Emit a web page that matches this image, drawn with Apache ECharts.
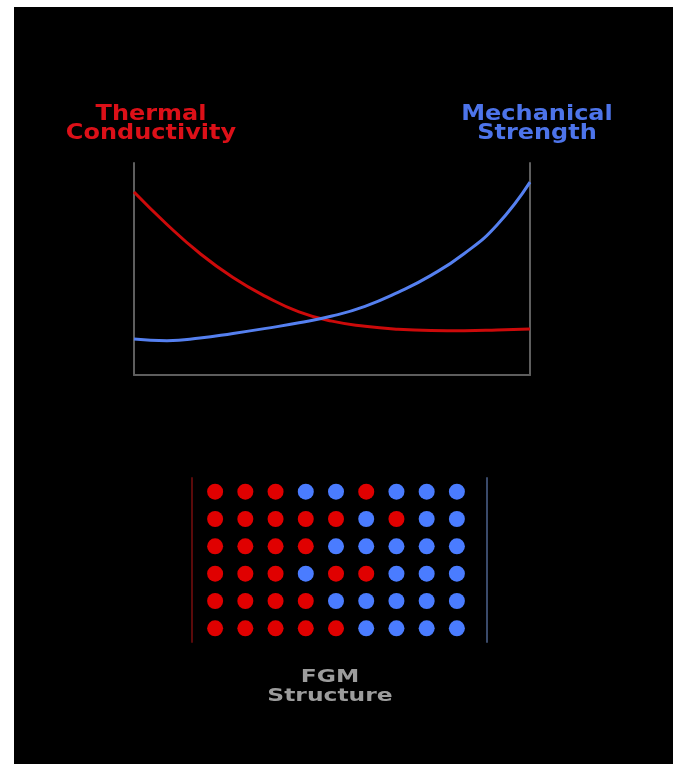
<!DOCTYPE html>
<html>
<head>
<meta charset="utf-8">
<script src="https://cdn.jsdelivr.net/npm/echarts@6/dist/echarts.min.js"></script>
<style>
html,body{margin:0;padding:0;background:#fff;}
#chart{width:676px;height:764px;}
</style>
</head>
<body>
<div id="chart"></div>
<script>
// ---- data ----
const positions = [0,1,2,3,4,5,6,7,8,9,10,11,12];
const thermalConductivity = [86.3,71.0,57.3,46.0,37.0,29.8,25.4,23.0,21.6,21.0,20.9,21.2,21.7];
const mechanicalStrength  = [17.0,16.2,17.4,19.6,22.0,24.6,27.8,32.4,39.0,47.0,57.2,70.8,91.0];
const dotColumns = ['1','2','3','4','5','6','7','8','9'];
const dotRowNames = ['1','2','3','4','5','6'];
// R = thermal phase (red), B = mechanical phase (blue)
const dotRows = [
  'RRRBBRBBB',
  'RRRRRBRBB',
  'RRRRBBBBB',
  'RRRBRRBBB',
  'RRRRBBBBB',
  'RRRRRBBBB'
];
const labelThermal = ['Thermal','Conductivity'];
const labelMechanical = ['Mechanical','Strength'];
const labelStructure = ['FGM','Structure'];

// ---- build ----
const RED = '#e00000';
const BLUE = '#4a7cff';
const redDots = [], blueDots = [];
dotRows.forEach((row, r) => {
  row.split('').forEach((ch, c) => {
    (ch === 'R' ? redDots : blueDots).push([c, r]);
  });
});

function textEl(str, x, y, color, size, sx) {
  return {
    type: 'text', x: x, y: y, scaleX: sx, silent: true, z: 10,
    style: {
      text: str, fill: color,
      font: 'bold ' + size + 'px "DejaVu Sans"',
      align: 'center', verticalAlign: 'middle'
    }
  };
}

const chart = echarts.init(document.getElementById('chart'));
chart.setOption({
  backgroundColor: '#ffffff',
  animation: false,
  graphic: [
    { type: 'rect', silent: true, z: -10, shape: { x: 14, y: 7, width: 659, height: 757 }, style: { fill: '#000000' } },
    textEl(labelThermal[0], 151, 115, '#dc1018', 20.5, 1.17),
    textEl(labelThermal[1], 151, 134, '#dc1018', 20.5, 1.17),
    textEl(labelMechanical[0], 537, 115, '#4d74ea', 20.5, 1.17),
    textEl(labelMechanical[1], 537, 134, '#4d74ea', 20.5, 1.17),
    textEl(labelStructure[0], 330, 677, '#9c9c9c', 18, 1.3),
    textEl(labelStructure[1], 330, 696, '#9c9c9c', 18, 1.3)
  ],
  grid: [
    { left: 134, top: 163, width: 396, height: 212 },
    { left: 200, top: 478, width: 272, height: 164 }
  ],
  xAxis: [
    { gridIndex: 0, type: 'value', min: 0, max: 12,
      axisLine: { show: true, lineStyle: { color: '#5e5e5e', width: 2 } },
      axisTick: { show: false }, axisLabel: { show: false }, splitLine: { show: false } },
    { gridIndex: 1, type: 'category', data: dotColumns, show: false }
  ],
  yAxis: [
    { gridIndex: 0, type: 'value', min: 0, max: 100, position: 'left',
      axisLine: { show: true, lineStyle: { color: '#5e5e5e', width: 2 } },
      axisTick: { show: false }, axisLabel: { show: false }, splitLine: { show: false } },
    { gridIndex: 0, type: 'value', min: 0, max: 100, position: 'right',
      axisLine: { show: true, lineStyle: { color: '#5e5e5e', width: 2 } },
      axisTick: { show: false }, axisLabel: { show: false }, splitLine: { show: false } },
    { gridIndex: 1, type: 'category', data: dotRowNames, inverse: true, position: 'left', offset: 8,
      axisLine: { show: true, lineStyle: { color: '#5a0a0a', width: 2 } },
      axisTick: { show: false }, axisLabel: { show: false }, splitLine: { show: false } },
    { gridIndex: 1, type: 'category', data: dotRowNames, inverse: true, position: 'right', offset: 15,
      axisLine: { show: true, lineStyle: { color: '#3a4a6a', width: 2 } },
      axisTick: { show: false }, axisLabel: { show: false }, splitLine: { show: false } }
  ],
  series: [
    { type: 'line', xAxisIndex: 0, yAxisIndex: 0, smooth: true, showSymbol: false,
      lineStyle: { color: '#cc0a0a', width: 3 },
      data: positions.map((x, i) => [x, thermalConductivity[i]]) },
    { type: 'line', xAxisIndex: 0, yAxisIndex: 0, smooth: true, showSymbol: false,
      lineStyle: { color: '#5580f0', width: 3 },
      data: positions.map((x, i) => [x, mechanicalStrength[i]]) },
    { type: 'scatter', xAxisIndex: 1, yAxisIndex: 2, symbolSize: 16,
      itemStyle: { color: RED, opacity: 1 }, data: redDots },
    { type: 'scatter', xAxisIndex: 1, yAxisIndex: 2, symbolSize: 16,
      itemStyle: { color: BLUE, opacity: 1 }, data: blueDots }
  ]
});
</script>
</body>
</html>
